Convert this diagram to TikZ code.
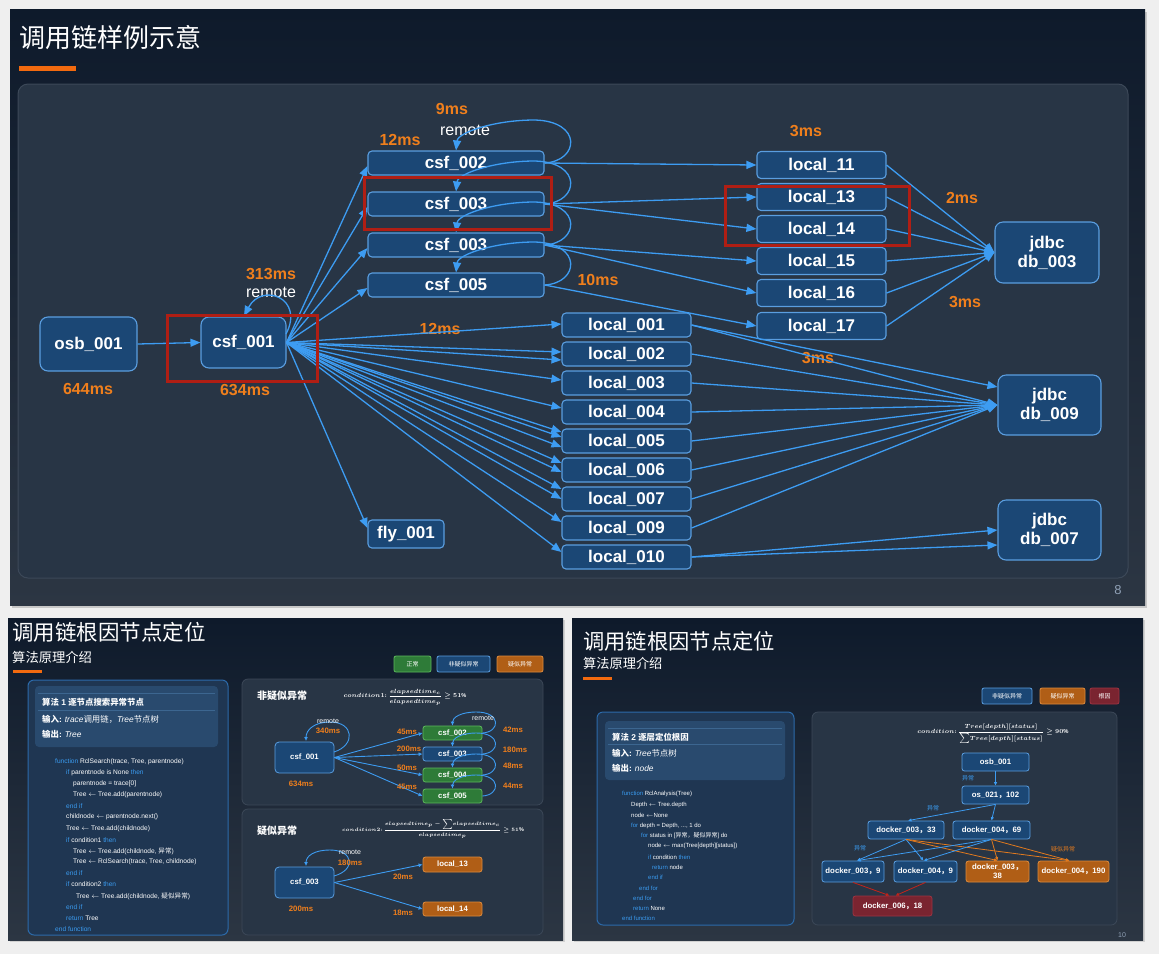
\documentclass[tikz,border=0pt]{standalone}
\usepackage{fontspec}
\setmainfont{Liberation Sans}
\newfontfamily\cjk{Noto Sans CJK SC}
\usetikzlibrary{arrows.meta,calc}
\definecolor{pagebg}{HTML}{EFEFEF}
\definecolor{slidetop}{HTML}{0E1A2B}
\definecolor{slidebot}{HTML}{2C3643}
\definecolor{panelfill}{HTML}{283545}
\definecolor{panelborder}{HTML}{3C4858}
\definecolor{nfill}{HTML}{1B4775}
\definecolor{nborder}{HTML}{5A9EE0}
\definecolor{eblue}{HTML}{3D9CF2}
\definecolor{msorange}{HTML}{F07F1C}
\definecolor{redbox}{HTML}{B01E14}
\definecolor{obar}{HTML}{F26A0F}
\definecolor{gfill}{HTML}{2E7B38}
\definecolor{gborder}{HTML}{5CB85C}
\definecolor{ofill}{HTML}{B05E16}
\definecolor{oborder}{HTML}{DD8B3D}
\definecolor{rfill}{HTML}{7A2430}
\definecolor{rborder}{HTML}{9C3442}
\definecolor{kwblue}{HTML}{3A9BF0}
\definecolor{algfill}{HTML}{1F3652}
\definecolor{algborder}{HTML}{2C6AAA}
\definecolor{hdrfill}{HTML}{294A6E}
\definecolor{hdrrule}{HTML}{3C6690}
\definecolor{pnum}{HTML}{8FA0B5}
\definecolor{eorange}{HTML}{E27A1E}
\definecolor{ered}{HTML}{C4231A}
\newcommand\kw[1]{\textcolor{kwblue}{#1}}
\newcommand\cj[1]{{\cjk #1}}
\tikzset{
  big/.style={draw=nborder, fill=nfill, line width=1.1pt, rounded corners=4pt, text=white,
    font=\bfseries\fontsize{17}{19}\selectfont, inner sep=0pt, align=center},
  msl/.style={text=msorange, font=\bfseries\fontsize{16}{16}\selectfont, inner sep=0pt},
  rml/.style={text=white, font=\fontsize{16}{16}\selectfont, inner sep=0pt},
  tedge/.style={draw=eblue, line width=1.3pt, -{Triangle[length=10pt,width=8pt]}},
  snode/.style={draw=nborder, fill=nfill, line width=0.8pt, rounded corners=2.5pt, text=white,
    font=\bfseries\fontsize{7.8}{8.6}\selectfont, inner sep=0pt, align=center},
  gnode/.style={snode, draw=gborder, fill=gfill},
  onode/.style={snode, draw=oborder, fill=ofill},
  rnode/.style={snode, draw=rborder, fill=rfill},
  sms/.style={text=msorange, font=\bfseries\fontsize{7.8}{8}\selectfont, inner sep=0pt},
  srm/.style={text=white, font=\fontsize{7}{7}\selectfont, inner sep=0pt},
  sedge/.style={draw=eblue, line width=0.9pt, -{Latex[length=4pt,width=4pt]}},
  bedge/.style={draw=eblue, line width=0.8pt, -{Latex[length=3.5pt,width=3.5pt]}},
  oedge/.style={bedge, draw=eorange},
  redge/.style={bedge, draw=ered},
  code/.style={anchor=west, text=white, font=\fontsize{6.6}{7}\selectfont, inner sep=0pt},
  code2/.style={anchor=west, text=white, font=\fontsize{6}{7}\selectfont, inner sep=0pt},
  hdr/.style={anchor=west, text=white, font=\fontsize{8.4}{9}\selectfont, inner sep=0pt},
  legend/.style={snode, font=\cjk\fontsize{6}{6}\selectfont, rounded corners=2pt},
  formula/.style={text=white, inner sep=0pt},
  ptitle/.style={text=white, font=\cjk\bfseries\fontsize{10}{10}\selectfont, inner sep=0pt},
  elab/.style={text=kwblue, font=\cjk\fontsize{6}{6}\selectfont, inner sep=0pt},
  rbox/.style={draw=redbox, line width=3pt}
}
\begin{document}
\begin{tikzpicture}[x=1pt,y=-1pt]
\useasboundingbox (0,0) rectangle (1159,954);
\fill[pagebg] (0,0) rectangle (1159,954);
% ================= TOP SLIDE =================
\fill[black!22] (12,12) rectangle (1147,608);
\shade[top color=slidetop, bottom color=slidebot] (10,9) rectangle (1145,605);
\draw[panelborder, fill=panelfill, rounded corners=10pt, line width=1pt] (18,84) rectangle (1128,578);
\node[anchor=west, text=white, font=\cjk\fontsize{26}{26}\selectfont, inner sep=0pt] (title1) at (19,38) {调用链样例示意};
\fill[obar] (19,66) rectangle (76,71);
\node[text=pnum, font=\fontsize{13}{13}\selectfont, inner sep=0pt] (pg8) at (1118,590) {8};

\node[big, minimum width=97pt, minimum height=54pt, rounded corners=8pt] (osb) at (88.5,344) {osb\_001};
\node[big, minimum width=85pt, minimum height=51pt, rounded corners=8pt] (csf001) at (243.5,342.5) {csf\_001};
\node[big, minimum width=176pt, minimum height=24pt] (csf002) at (456,163) {csf\_002};
\node[big, minimum width=176pt, minimum height=24pt] (csf003a) at (456,204) {csf\_003};
\node[big, minimum width=176pt, minimum height=24pt] (csf003b) at (456,245) {csf\_003};
\node[big, minimum width=176pt, minimum height=24pt] (csf005) at (456,285) {csf\_005};
\node[big, minimum width=76pt, minimum height=28pt] (fly) at (406,534) {fly\_001};
\foreach \n/\y in {001/325,002/354,003/383,004/412,005/441,006/470,007/499,009/528,010/557}
  \node[big, minimum width=129pt, minimum height=24pt] (l\n) at (626.5,\y) {local\_\n};
\foreach \n/\y in {11/165,13/197,14/229,15/261,16/293,17/326}
  \node[big, minimum width=129pt, minimum height=27pt] (l\n) at (821.5,\y) {local\_\n};
\node[big, minimum width=104pt, minimum height=61pt, rounded corners=8pt] (db003) at (1047,252.5) {jdbc\\db\_003};
\node[big, minimum width=103pt, minimum height=60pt, rounded corners=8pt] (db009) at (1049.5,405) {jdbc\\db\_009};
\node[big, minimum width=103pt, minimum height=60pt, rounded corners=8pt] (db007) at (1049.5,530) {jdbc\\db\_007};

% labels
\node[msl] (t644) at (88,389) {644ms};
\node[msl] (t634) at (245,390) {634ms};
\node[msl] (t313) at (271,274) {313ms};
\node[rml] (trm1) at (271,292) {remote};
\node[msl] (t12a) at (400,140) {12ms};
\node[msl] (t9) at (452,109) {9ms};
\node[rml] (trm2) at (465,130) {remote};
\node[msl] (t3a) at (806,131) {3ms};
\node[msl] (t2) at (962,198) {2ms};
\node[msl] (t3b) at (965,302) {3ms};
\node[msl] (t10) at (598,280) {10ms};
\node[msl] (t12b) at (440,329) {12ms};
\node[msl] (t3c) at (818,358) {3ms};

% edges
\draw[tedge] (osb.east) -- (csf001.west);
\draw[tedge] (286,334) .. controls (305,298) and (262,282) .. (244,316);
\foreach \n in {csf002,csf003a,csf003b,csf005}
  \draw[tedge] (csf001.east) -- ($(\n.west)+(0,3)$);
\draw[tedge] (csf001.east) -- ($(fly.west)+(0,-6)$);
\foreach \t/\dy in {001/-1,002/-2,002/6,003/-3,004/-4,005/-9,005/-4,005/6,006/-7,006/2,007/-10,007/0,009/-6,010/-5}
  \draw[tedge] (csf001.east) -- ($(l\t.west)+(0,\dy)$);
\foreach \n in {csf002,csf003a,csf003b,csf005}
  \draw[tedge] (\n.east) .. controls ($(\n.east)+(35,-2)$) and ($(\n.east)+(38,-42)$) .. ($(\n.east)+(-10,-43)$)
     .. controls ($(\n.east)+(-50,-43)$) and ($(\n.north)+(2,-18)$) .. (\n.north);
\draw[tedge] (csf002.east) -- (l11.west);
\draw[tedge] (csf003a.east) -- (l13.west);
\draw[tedge] (csf003a.east) -- (l14.west);
\draw[tedge] (csf003b.east) -- (l15.west);
\draw[tedge] (csf003b.east) -- (l16.west);
\draw[tedge] (csf005.east) -- (l17.west);
\foreach \n in {11,13,14,15,16,17}
  \draw[tedge] (l\n.east) -- (db003.west);
\draw[tedge] (l001.east) -- ($(db009.west)+(0,-18)$);
\foreach \n in {001,002,003,004,005,006,007,009}
  \draw[tedge] (l\n.east) -- (db009.west);
\draw[tedge] (l010.east) -- (db007.west);
\draw[tedge] (l010.east) -- ($(db007.west)+(0,15)$);
% red boxes
\draw[rbox] (167,315) rectangle (317,381);
\draw[rbox] (364,177) rectangle (551,229);
\draw[rbox] (725,186) rectangle (909,245);

% ================= BOTTOM LEFT SLIDE =================
\fill[black!18] (10,620) rectangle (565,942);
\shade[top color=slidetop, bottom color=slidebot] (8,618) rectangle (563,940);
\node[anchor=west, text=white, font=\cjk\fontsize{21.5}{22}\selectfont, inner sep=0pt] (title2) at (12,632) {调用链根因节点定位};
\node[anchor=west, text=white, font=\cjk\fontsize{13.3}{14}\selectfont, inner sep=0pt] (sub2) at (12,657) {算法原理介绍};
\fill[obar] (13,670) rectangle (42,673);
\node[legend, draw=gborder, fill=gfill, minimum width=37pt, minimum height=16pt] (lg1) at (412.5,664) {正常};
\node[legend, minimum width=53pt, minimum height=16pt] (lg2) at (463.5,664) {非疑似异常};
\node[legend, draw=oborder, fill=ofill, minimum width=46pt, minimum height=16pt] (lg3) at (520,664) {疑似异常};
% algorithm 1 panel
\draw[algborder, fill=algfill, rounded corners=6pt, line width=1pt] (28,680) rectangle (228,935);
\fill[hdrfill, rounded corners=4pt] (35,686) rectangle (218,747);
\draw[hdrrule, line width=0.6pt] (38,693) -- (215,693);
\draw[hdrrule, line width=0.6pt] (38,710) -- (215,710);
\node[hdr] (h1a) at (42,702) {\cj{\bfseries 算法} \textbf{1} \cj{\bfseries 逐节点搜索异常节点}};
\node[hdr] (h1b) at (42,719) {\cj{\bfseries 输入}\textbf{:} \textit{trace}\cj{调用链，}\textit{Tree}\cj{节点树}};
\node[hdr] (h1c) at (42,734) {\cj{\bfseries 输出}\textbf{:} \textit{Tree}};
\node[code] (a1) at (55,762) {\kw{function} RclSearch(trace, Tree, parentnode)};
\node[code] (a2) at (66,773) {\kw{if} parentnode is None \kw{then}};
\node[code] (a3) at (73,784) {parentnode = trace[0]};
\node[code] (a4) at (73,795) {Tree $\leftarrow$ Tree.add(parentnode)};
\node[code] (a5) at (66,806) {\kw{end if}};
\node[code] (a6) at (66,817) {childnode $\leftarrow$ parentnode.next()};
\node[code] (a7) at (66,829) {Tree $\leftarrow$ Tree.add(childnode)};
\node[code] (a8) at (66,840) {\kw{if} condition1 \kw{then}};
\node[code] (a9) at (73,851) {Tree $\leftarrow$ Tree.add(childnode, \cj{异常})};
\node[code] (a10) at (73,862) {Tree $\leftarrow$ RclSearch(trace, Tree, childnode)};
\node[code] (a11) at (66,873) {\kw{end if}};
\node[code] (a12) at (66,884) {\kw{if} condition2 \kw{then}};
\node[code] (a13) at (76,896) {Tree $\leftarrow$ Tree.add(childnode, \cj{疑似异常})};
\node[code] (a14) at (66,907) {\kw{end if}};
\node[code] (a15) at (66,918) {\kw{return} Tree};
\node[code] (a16) at (55,929) {\kw{end function}};
% panel 1
\draw[panelborder, fill=panelfill, rounded corners=6pt, line width=0.8pt] (242,679) rectangle (543,805);
\node[ptitle] (pt1) at (282,696) {非疑似异常};
\node[formula, font=\boldmath\fontsize{5.6}{6.5}\selectfont] (f1) at (405,697) {$condition1\colon{\displaystyle\frac{elapsedtime_c}{elapsedtime_p}}\geq 51\%$};
\node[snode, minimum width=59pt, minimum height=31pt, rounded corners=4pt] (bcsf1) at (304.5,757.5) {csf\_001};
\node[gnode, minimum width=59pt, minimum height=14pt] (bc2) at (452.5,733) {csf\_002};
\node[snode, minimum width=59pt, minimum height=14pt] (bc3) at (452.5,754) {csf\_003};
\node[gnode, minimum width=59pt, minimum height=14pt] (bc4) at (452.5,775) {csf\_004};
\node[gnode, minimum width=59pt, minimum height=14pt] (bc5) at (452.5,796) {csf\_005};
\draw[sedge] (334,752) .. controls (356,745) and (354,722) .. (330,722) .. controls (314,722) and (306,730) .. (306,741);
\foreach \n in {bc2,bc3,bc4,bc5}
  \draw[sedge] (bcsf1.east) -- (\n.west);
\foreach \n in {bc2,bc3,bc4,bc5}
  \draw[sedge] (\n.east) .. controls ($(\n.east)+(18,-1)$) and ($(\n.east)+(19,-21)$) .. ($(\n.east)+(-6,-21)$)
     .. controls ($(\n.east)+(-22,-21)$) and ($(\n.north)+(0,-8)$) .. (\n.north);
\node[srm] (r1) at (328,721) {remote};
\node[sms] (m340) at (328,731) {340ms};
\node[sms] (m634) at (301,784) {634ms};
\node[sms] (m45a) at (407,732) {45ms};
\node[sms] (m200) at (409,749) {200ms};
\node[sms] (m50) at (407,768) {50ms};
\node[sms] (m45b) at (407,787) {45ms};
\node[srm] (r2) at (483,718) {remote};
\node[sms] (m42) at (513,730) {42ms};
\node[sms] (m180) at (515,750) {180ms};
\node[sms] (m48) at (513,766) {48ms};
\node[sms] (m44) at (513,786) {44ms};
% panel 2
\draw[panelborder, fill=panelfill, rounded corners=6pt, line width=0.8pt] (242,809) rectangle (543,935);
\node[ptitle] (pt2) at (277,831) {疑似异常};
\node[formula, font=\boldmath\fontsize{5.4}{6.5}\selectfont] (f2) at (433,829) {$condition2\colon{\displaystyle\frac{elapsedtime_p-{\textstyle\sum} elapsedtime_c}{elapsedtime_p}}\geq 51\%$};
\node[snode, minimum width=59pt, minimum height=31pt, rounded corners=4pt] (bcsf3) at (304.5,882.5) {csf\_003};
\node[onode, minimum width=59pt, minimum height=15pt] (bl13) at (452.5,864.5) {local\_13};
\node[onode, minimum width=59pt, minimum height=14pt] (bl14) at (452.5,909) {local\_14};
\draw[sedge] (334,876) .. controls (356,870) and (354,850) .. (330,850) .. controls (314,850) and (306,856) .. (306,866);
\draw[sedge] (bcsf3.east) -- (bl13.west);
\draw[sedge] (bcsf3.east) -- (bl14.west);
\node[srm] (r3) at (350,852) {remote};
\node[sms] (m180b) at (350,863) {180ms};
\node[sms] (m200b) at (301,909) {200ms};
\node[sms] (m20) at (403,877) {20ms};
\node[sms] (m18) at (403,913) {18ms};

% ================= BOTTOM RIGHT SLIDE =================
\fill[black!18] (574,620) rectangle (1145,942);
\shade[top color=slidetop, bottom color=slidebot] (572,618) rectangle (1143,940);
\node[anchor=west, text=white, font=\cjk\fontsize{21.3}{22}\selectfont, inner sep=0pt] (title3) at (583,641) {调用链根因节点定位};
\node[anchor=west, text=white, font=\cjk\fontsize{13.2}{14}\selectfont, inner sep=0pt] (sub3) at (583,663) {算法原理介绍};
\fill[obar] (583,677) rectangle (612,680);
\node[text=pnum, font=\fontsize{7}{7}\selectfont, inner sep=0pt] (pg10) at (1122,935) {10};
\node[legend, minimum width=50pt, minimum height=16pt] (lg4) at (1007,696) {非疑似异常};
\node[legend, draw=oborder, fill=ofill, minimum width=45pt, minimum height=16pt] (lg5) at (1062.5,696) {疑似异常};
\node[legend, draw=rborder, fill=rfill, minimum width=29pt, minimum height=16pt] (lg6) at (1104.5,696) {根因};
% algorithm 2 panel
\draw[algborder, fill=algfill, rounded corners=6pt, line width=1pt] (597,712) rectangle (794,925);
\fill[hdrfill, rounded corners=4pt] (605,721) rectangle (785,780);
\draw[hdrrule, line width=0.6pt] (608,728) -- (782,728);
\draw[hdrrule, line width=0.6pt] (608,744) -- (782,744);
\node[hdr] (h2a) at (612,737) {\cj{\bfseries 算法} \textbf{2} \cj{\bfseries 逐层定位根因}};
\node[hdr] (h2b) at (612,753) {\cj{\bfseries 输入}\textbf{:} \textit{Tree}\cj{节点树}};
\node[hdr] (h2c) at (612,768) {\cj{\bfseries 输出}\textbf{:} \textit{node}};
\node[code2] (b1) at (622,794) {\kw{function} RclAnalysis(Tree)};
\node[code2] (b2) at (631,805) {Depth $\leftarrow$ Tree.depth};
\node[code2] (b3) at (631,815) {node $\leftarrow$None};
\node[code2] (b4) at (631,826) {\kw{for} depth = Depth, ..., 1 do};
\node[code2] (b5) at (641,836) {\kw{for} status in [\cj{异常，疑似异常}] do};
\node[code2] (b6) at (648,846) {node $\leftarrow$ max(Tree[depth][status])};
\node[code2] (b7) at (648,857) {\kw{if} condition \kw{then}};
\node[code2] (b8) at (652,867) {\kw{return} node};
\node[code2] (b9) at (648,877) {\kw{end if}};
\node[code2] (b10) at (639,888) {\kw{end for}};
\node[code2] (b11) at (633,898) {\kw{end for}};
\node[code2] (b12) at (633,908) {\kw{return} None};
\node[code2] (b13) at (622,918) {\kw{end function}};
% tree panel
\draw[panelborder, fill=panelfill, rounded corners=6pt, line width=0.8pt] (812,712) rectangle (1117,925);
\node[formula, font=\boldmath\fontsize{5.8}{6.5}\selectfont] (f3) at (993,734) {$condition\colon{\displaystyle\frac{Tree[depth][status]}{{\textstyle\sum} Tree[depth][status]}}\geq 90\%$};
\node[snode, minimum width=67pt, minimum height=18pt] (tosb) at (995.5,762) {osb\_001};
\node[snode, minimum width=67pt, minimum height=18pt] (tos) at (995.5,795) {os\_021\cj{，}102};
\node[snode, minimum width=76pt, minimum height=18pt] (td3) at (906,830) {docker\_003\cj{，}33};
\node[snode, minimum width=77pt, minimum height=18pt] (td4) at (991.5,830) {docker\_004\cj{，}69};
\node[snode, minimum width=62pt, minimum height=21pt] (td39) at (853,871.5) {docker\_003\cj{，}9};
\node[snode, minimum width=63pt, minimum height=21pt] (td49) at (925.5,871.5) {docker\_004\cj{，}9};
\node[onode, minimum width=63pt, minimum height=21pt] (td338) at (997.5,871.5) {docker\_003\cj{，}\\38};
\node[onode, minimum width=71pt, minimum height=21pt] (td4190) at (1073.5,871.5) {docker\_004\cj{，}190};
\node[rnode, minimum width=79pt, minimum height=20pt] (td6) at (892.5,906) {docker\_006\cj{，}18};
\draw[bedge] (tosb.south) -- (tos.north);
\draw[bedge] (tos.south) -- ($(td3.north)+(2,0)$);
\draw[bedge] (tos.south) -- (td4.north);
\foreach \s in {td3,td4} {
  \draw[bedge] (\s.south) -- ($(td39.north)+(4,0)$);
  \draw[bedge] (\s.south) -- ($(td49.north)+(-2,0)$);
  \draw[oedge] (\s.south) -- (td338.north);
  \draw[oedge] (\s.south) -- ($(td4190.north)+(-4,0)$);
}
\draw[redge] (td39.south) -- ($(td6.north)+(-3,0)$);
\draw[redge] (td49.south) -- ($(td6.north)+(3,0)$);
\node[elab] (e1) at (968,778) {异常};
\node[elab] (e2) at (933,808) {异常};
\node[elab] (e3) at (860,848) {异常};
\node[elab, text=eorange] (e4) at (1063,849) {疑似异常};
\end{tikzpicture}
\end{document}
